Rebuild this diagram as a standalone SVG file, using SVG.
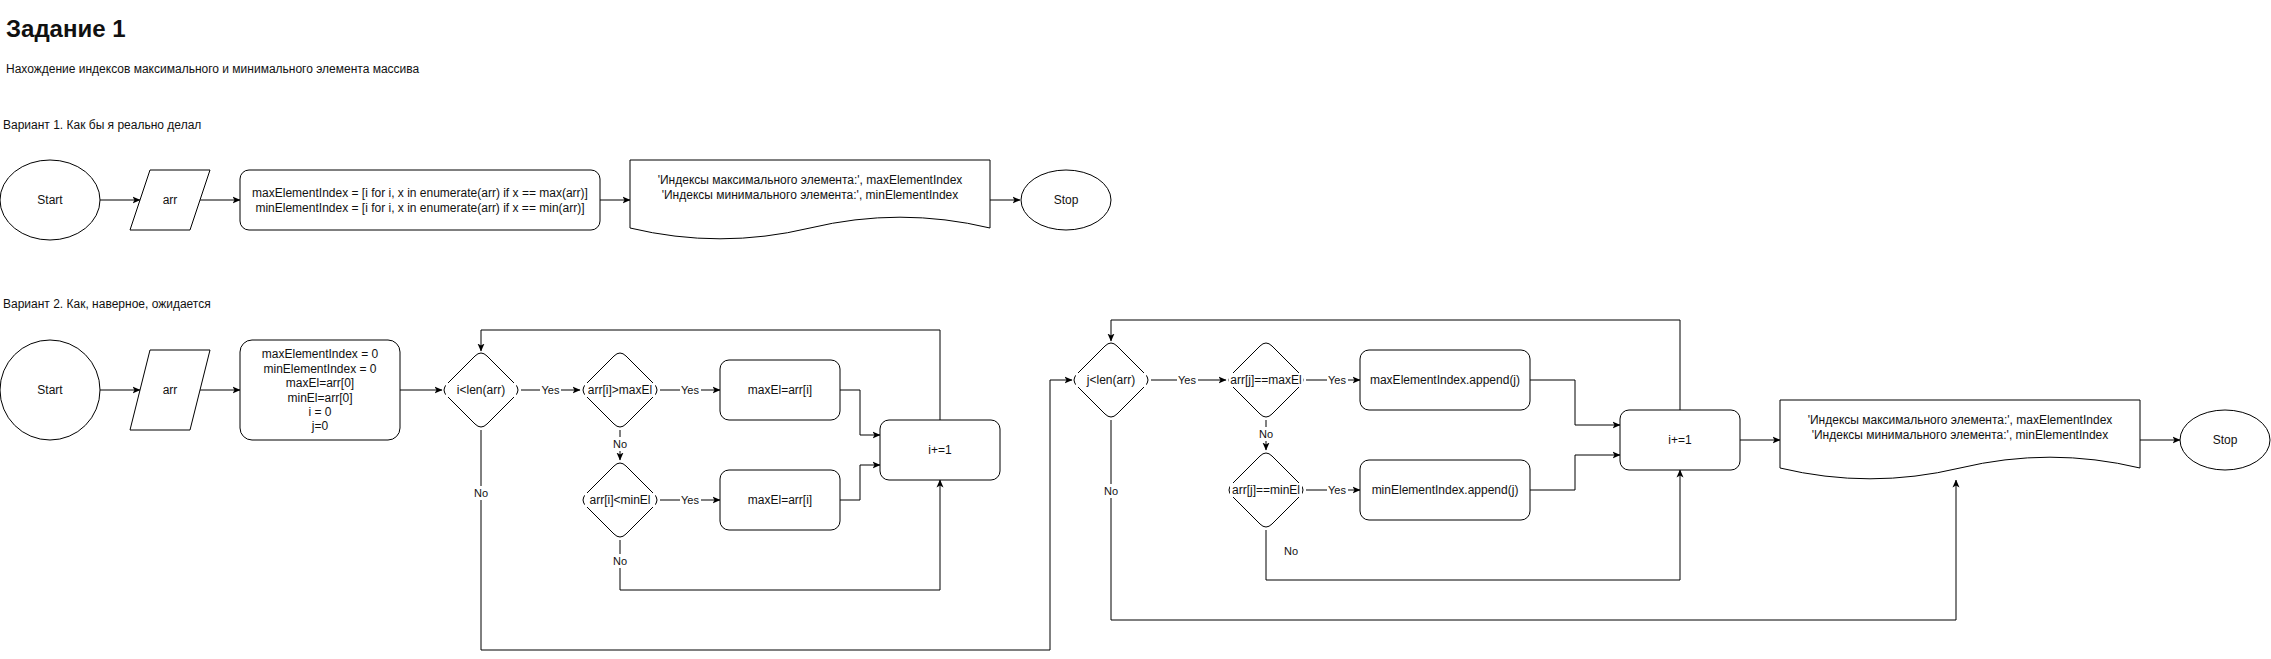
<svg xmlns="http://www.w3.org/2000/svg" xmlns:xlink="http://www.w3.org/1999/xlink" width="2271" height="659" viewBox="0 0 2271 659">
<style>
text{font-family:"Liberation Sans",Arial,sans-serif;fill:#111;}
.t{font-size:12px;text-anchor:middle;}
.l{font-size:12px;}
.s{fill:#fff;stroke:#000;stroke-width:1;}
.c{fill:none;stroke:#000;stroke-width:1;}
.ca{fill:none;stroke:#000;stroke-width:1;marker-end:url(#arr);}
.lb{font-size:11px;text-anchor:middle;}
.bg{fill:#fff;stroke:none;}
</style>
<defs>
<marker id="arr" viewBox="0 0 8 8" refX="7.5" refY="4" markerWidth="8" markerHeight="8" markerUnits="userSpaceOnUse" orient="auto">
<path d="M0,0.5 L8,4 L0,7.5 L2,4 Z" fill="#000"/>
</marker>
<path id="rh" d="M-6,-34 Q0,-40 6,-34 L34,-6 Q40,0 34,6 L6,34 Q0,40 -6,34 L-34,6 Q-40,0 -34,-6 Z" fill="#fff" stroke="#000" stroke-width="1"/>
</defs>
<rect width="2271" height="659" fill="#fff"/>

<g id="headings">
<text x="6" y="37" style="font-size:24px;font-weight:bold;">Задание 1</text>
<text class="l" x="6" y="73">Нахождение индексов максимального и минимального элемента массива</text>
<text class="l" x="3" y="129">Вариант 1. Как бы я реально делал</text>
<text class="l" x="3" y="308">Вариант 2. Как, наверное, ожидается</text>
</g>

<g id="connectors">
<path class="ca" d="M100,200 H140"/>
<path class="ca" d="M200,200 H240"/>
<path class="ca" d="M600,200 H630"/>
<path class="ca" d="M990,200 H1020"/>

<path class="ca" d="M100,390 H140"/>
<path class="ca" d="M200,390 H240"/>
<path class="ca" d="M400,390 H442"/>
<path class="ca" d="M521,390 H580"/>
<path class="ca" d="M660,390 H720"/>
<path class="ca" d="M620,430 V460"/>
<path class="ca" d="M660,500 H720"/>
<path class="ca" d="M840,390 H860 V435 H880"/>
<path class="ca" d="M840,500 H860 V465 H880"/>
<path class="ca" d="M940,420 V330 H481 V351"/>
<path class="ca" d="M620,540 V590 H940 V480"/>
<path class="ca" d="M481,430 V650 H1050 V380 H1072"/>

<path class="ca" d="M1151,380 H1226"/>
<path class="ca" d="M1306,380 H1360"/>
<path class="ca" d="M1266,420 V450"/>
<path class="ca" d="M1306,490 H1360"/>
<path class="ca" d="M1530,380 H1575 V425 H1620"/>
<path class="ca" d="M1530,490 H1575 V455 H1620"/>
<path class="ca" d="M1680,410 V320 H1111 V341"/>
<path class="ca" d="M1266,530 V580 H1680 V470"/>
<path class="ca" d="M1111,420 V620 H1956 V480"/>
<path class="ca" d="M1740,440 H1780"/>
<path class="ca" d="M2140,440 H2180"/>

<g id="edge-labels">
<rect class="bg" x="540" y="383" width="21" height="14"/><text class="lb" x="550.5" y="394">Yes</text>
<rect class="bg" x="680" y="383" width="21" height="14"/><text class="lb" x="690" y="394">Yes</text>
<rect class="bg" x="612" y="437" width="16" height="14"/><text class="lb" x="620" y="448">No</text>
<rect class="bg" x="680" y="493" width="21" height="14"/><text class="lb" x="690" y="504">Yes</text>
<rect class="bg" x="612" y="554" width="16" height="14"/><text class="lb" x="620" y="565">No</text>
<rect class="bg" x="473" y="486" width="16" height="14"/><text class="lb" x="481" y="497">No</text>
<rect class="bg" x="1177" y="373" width="21" height="14"/><text class="lb" x="1187" y="384">Yes</text>
<rect class="bg" x="1327" y="373" width="21" height="14"/><text class="lb" x="1337" y="384">Yes</text>
<rect class="bg" x="1258" y="427" width="16" height="14"/><text class="lb" x="1266" y="438">No</text>
<rect class="bg" x="1327" y="483" width="21" height="14"/><text class="lb" x="1337" y="494">Yes</text>
<text class="lb" x="1291" y="555">No</text>
<rect class="bg" x="1103" y="484" width="16" height="14"/><text class="lb" x="1111" y="495">No</text>
</g>
</g>

<g id="start1"><ellipse class="s" cx="50" cy="200" rx="50" ry="40"/><text class="t" x="50" y="204">Start</text></g>
<g id="input1"><path class="s" d="M150,170 H210 L190,230 H130 Z"/><text class="t" x="170" y="204">arr</text></g>
<g id="process1"><rect class="s" x="240" y="170" width="360" height="60" rx="9"/>
<text class="t" x="420" y="197">maxElementIndex = [i for i, x in enumerate(arr) if x == max(arr)]</text>
<text class="t" x="420" y="212">minElementIndex = [i for i, x in enumerate(arr) if x == min(arr)]</text></g>
<g id="output1"><path class="s" d="M630,160 H990 V228 Q900,206.4 810,228 T630,228 Z"/>
<text class="t" x="810" y="184">'Индексы максимального элемента:', maxElementIndex</text>
<text class="t" x="810" y="199">'Индексы минимального элемента:', minElementIndex</text></g>
<g id="stop1"><ellipse class="s" cx="1066" cy="200" rx="45" ry="30"/><text class="t" x="1066" y="204">Stop</text></g>

<g id="start2"><ellipse class="s" cx="50" cy="390" rx="50" ry="50"/><text class="t" x="50" y="394">Start</text></g>
<g id="input2"><path class="s" d="M150,350 H210 L190,430 H130 Z"/><text class="t" x="170" y="394">arr</text></g>
<g id="init"><rect class="s" x="240" y="340" width="160" height="100" rx="12"/>
<text class="t" x="320" y="358">maxElementIndex = 0</text>
<text class="t" x="320" y="372.5">minElementIndex = 0</text>
<text class="t" x="320" y="387">maxEl=arr[0]</text>
<text class="t" x="320" y="401.5">minEl=arr[0]</text>
<text class="t" x="320" y="416">i = 0</text>
<text class="t" x="320" y="430">j=0</text></g>

<g id="cond-i"><use xlink:href="#rh" x="481" y="390"/><rect class="bg" x="446" y="383" width="70" height="14"/><text class="t" x="481" y="394">i&lt;len(arr)</text></g>
<g id="cond-max"><use xlink:href="#rh" x="620" y="390"/><rect class="bg" x="585" y="383" width="70" height="14"/><text class="t" x="620" y="394">arr[i]&gt;maxEl</text></g>
<g id="cond-min"><use xlink:href="#rh" x="620" y="500"/><rect class="bg" x="585" y="493" width="70" height="14"/><text class="t" x="620" y="504">arr[i]&lt;minEl</text></g>
<g id="set-max"><rect class="s" x="720" y="360" width="120" height="60" rx="9"/><text class="t" x="780" y="394">maxEl=arr[i]</text></g>
<g id="set-min"><rect class="s" x="720" y="470" width="120" height="60" rx="9"/><text class="t" x="780" y="504">maxEl=arr[i]</text></g>
<g id="inc-i"><rect class="s" x="880" y="420" width="120" height="60" rx="9"/><text class="t" x="940" y="454">i+=1</text></g>

<g id="cond-j"><use xlink:href="#rh" x="1111" y="380"/><rect class="bg" x="1076" y="373" width="70" height="14"/><text class="t" x="1111" y="384">j&lt;len(arr)</text></g>
<g id="cond-eqmax"><use xlink:href="#rh" x="1266" y="380"/><rect class="bg" x="1229" y="373" width="74" height="14"/><text class="t" x="1266" y="384">arr[j]==maxEl</text></g>
<g id="cond-eqmin"><use xlink:href="#rh" x="1266" y="490"/><rect class="bg" x="1230" y="483" width="72" height="14"/><text class="t" x="1266" y="494">arr[j]==minEl</text></g>
<g id="append-max"><rect class="s" x="1360" y="350" width="170" height="60" rx="9"/><text class="t" x="1445" y="384">maxElementIndex.append(j)</text></g>
<g id="append-min"><rect class="s" x="1360" y="460" width="170" height="60" rx="9"/><text class="t" x="1445" y="494">minElementIndex.append(j)</text></g>
<g id="inc-j"><rect class="s" x="1620" y="410" width="120" height="60" rx="9"/><text class="t" x="1680" y="444">i+=1</text></g>
<g id="output2"><path class="s" d="M1780,400 H2140 V468 Q2050,446.4 1960,468 T1780,468 Z"/>
<text class="t" x="1960" y="424">'Индексы максимального элемента:', maxElementIndex</text>
<text class="t" x="1960" y="439">'Индексы минимального элемента:', minElementIndex</text></g>
<g id="stop2"><ellipse class="s" cx="2225" cy="440" rx="45" ry="30"/><text class="t" x="2225" y="444">Stop</text></g>
</svg>
